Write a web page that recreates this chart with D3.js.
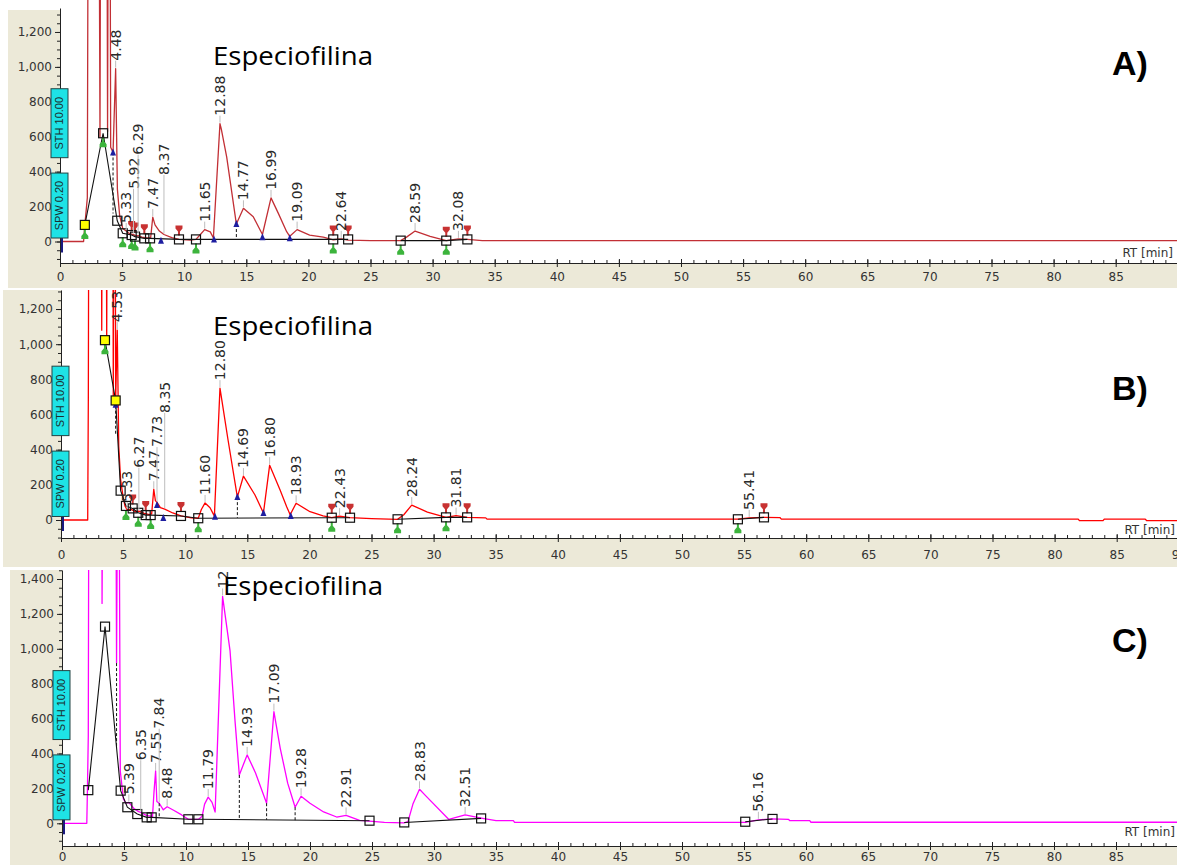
<!DOCTYPE html>
<html>
<head>
<meta charset="utf-8">
<script src="https://cdn.jsdelivr.net/npm/d3@7"></script>
<style>
  html, body { margin: 0; padding: 0; background: #fff; }
  svg { display: block; }
</style>
</head>
<body>
<svg id="chart" width="1177" height="865"></svg>
<script>
// ---------- Chromatogram A ----------
const traceA = [[0,0],[1.9,0],[2.0,95],[2.2,250],[2.3,3000],[3.1,3000],[3.22,600],[3.3,3000],[3.75,3000],[3.83,630],[3.92,3000],[4.0,3000],[4.08,540],[4.27,510],[4.48,990],[4.62,300],[4.8,150],[5.05,75],[5.33,60],[5.6,45],[5.92,40],[6.1,32],[6.29,34],[6.6,25],[7.0,20],[7.3,22],[7.47,140],[7.65,95],[8.0,60],[8.37,40],[9.0,22],[9.58,12],[10.5,8],[10.95,12],[11.3,40],[11.65,68],[12.1,55],[12.35,20],[12.88,675],[13.0,640],[13.42,485],[14.2,100],[14.77,190],[15.56,142],[16.3,40],[16.99,250],[17.58,161],[18.25,56],[18.5,30],[19.09,68],[20.1,37],[21.2,25],[22.0,10],[22.64,15],[23.2,8],[25.0,5],[27.43,5],[27.9,25],[28.59,60],[29.8,30],[31.1,5],[32.08,15],[32.8,12],[34.0,5],[90,5]];
const peaksA = [[4.48,990],[5.33,60],[5.92,40],[6.29,34],[7.47,140],[8.37,40],[11.65,68],[12.88,675],[14.77,190],[16.99,250],[19.09,68],[22.64,15],[28.59,60],[32.08,15]];
const baselineA = [
  [[2.0,95],[3.47,620],[4.61,119],[5.05,47],[5.77,37],[6.04,28],[6.79,18],[7.25,18],[9.58,12],[10.95,12],[22.0,12],[23.2,12]],
  [[27.43,5],[31.1,5],[32.8,12]]
];
const manualA = [2.0];
const dropsA = [[4.27,510,160],[14.2,100,12]];
const startsA = [[2.0,95],[3.47,620],[5.05,47],[5.77,37],[6.04,28],[7.25,18],[10.95,12],[22.0,12],[27.43,5],[31.1,5]];
const endsA = [[5.77,37],[6.04,28],[6.79,18],[9.58,12],[22.0,12],[23.2,12],[31.1,5],[32.8,12]];
const valleysA = [[4.27,510],[8.13,5],[12.4,12],[14.2,100],[16.3,24],[18.5,18]];

// ---------- Chromatogram B ----------
const traceB = [[0,0],[2.15,0],[2.2,680],[2.27,3000],[3.2,3000],[3.28,1080],[3.36,3000],[3.6,3000],[3.68,1020],[3.76,3000],[4.15,3000],[4.21,700],[4.3,3000],[4.34,3000],[4.4,680],[4.53,1080],[4.65,420],[4.8,230],[5.0,130],[5.15,80],[5.33,57],[5.6,62],[6.0,48],[6.27,50],[6.7,38],[7.1,30],[7.3,35],[7.47,175],[7.6,110],[7.73,100],[8.0,70],[8.35,62],[9.0,40],[9.66,23],[10.5,12],[11.05,10],[11.3,60],[11.6,97],[12.0,70],[12.35,22],[12.8,750],[13.45,455],[14.2,130],[14.69,250],[15.62,142],[16.3,40],[16.8,312],[17.64,170],[18.17,76],[18.45,30],[18.93,95],[20.05,47],[21.1,23],[21.8,13],[22.43,22],[23.27,13],[25.0,8],[27.1,4],[27.6,30],[28.24,85],[29.5,45],[31.0,15],[31.81,25],[32.7,15],[34.2,12],[34.3,5],[54.5,5],[55.41,12],[56.6,15],[57.9,13],[58.0,5],[81.9,5],[82.0,-4],[83.9,-4],[84.0,5],[87.3,5],[87.4,-3],[90,-3]];
const peaksB = [[4.53,1080],[5.33,57],[6.27,50],[7.47,175],[7.73,100],[8.35,62],[11.60,97],[12.80,750],[14.69,250],[16.80,312],[18.93,95],[22.43,22],[28.24,85],[31.81,25],[55.41,12]];
const baselineB = [
  [[3.54,1023],[4.4,680],[4.8,167],[5.23,80],[5.77,66],[6.22,41],[6.82,28],[7.22,28],[9.66,23],[11.05,10],[21.8,13],[23.27,13]],
  [[27.1,4],[31.0,15],[32.7,15]],
  [[54.5,4],[56.6,15]]
];
const manualB = [3.54, 4.4];
const dropsB = [[4.4,650,490],[14.2,130,12]];
const startsB = [[3.54,1023],[5.23,80],[6.22,41],[7.22,28],[11.05,10],[21.8,13],[27.1,4],[31.0,15],[54.5,4]];
const endsB = [[5.77,66],[6.82,28],[9.66,23],[21.8,13],[23.27,13],[31.0,15],[32.7,15],[56.6,15]];
const valleysB = [[4.4,655],[7.73,85],[8.24,11],[12.4,19],[14.2,131],[16.3,40],[18.5,23]];

// ---------- Chromatogram C ----------
const traceC = [[0,0],[2.0,0],[2.05,190],[2.12,500],[2.25,5000],[3.18,5000],[3.23,1260],[3.5,5000],[4.2,5000],[4.4,918],[4.55,3000],[4.7,300],[4.95,140],[5.15,115],[5.39,120],[5.8,85],[6.1,70],[6.35,62],[6.8,45],[7.3,40],[7.42,180],[7.55,300],[7.65,125],[7.84,115],[8.17,77],[8.48,95],[9.0,75],[9.65,48],[10.19,23],[11.0,22],[11.3,40],[11.5,110],[11.79,150],[12.1,120],[12.35,65],[12.95,1300],[13.55,990],[13.95,590],[14.3,277],[14.93,392],[15.6,290],[16.5,115],[17.09,640],[17.6,430],[18.2,230],[18.8,92],[19.28,155],[20.0,115],[21.1,65],[22.15,36],[22.91,45],[24.0,17],[24.8,12],[26.0,5],[27.6,3],[27.9,10],[28.3,110],[28.83,195],[29.3,160],[31.2,22],[32.51,48],[33.8,30],[35.0,15],[36.4,15],[36.5,5],[55.1,5],[56.16,20],[57.3,25],[58.6,22],[58.7,15],[60.3,15],[60.4,6],[90,6]];
const peaksC = [[5.39,120],[6.35,62],[7.55,300],[7.84,115],[8.48,95],[11.79,150],[12.95,1300],[14.93,392],[17.09,640],[19.28,155],[22.91,45],[28.83,195],[32.51,48],[56.16,20]];
const baselineC = [
  [[2.12,190],[3.47,1127],[4.73,187],[5.27,92],[6.07,53],[6.83,34],[7.23,34],[10.19,23],[11.0,23],[24.8,15]],
  [[27.6,5],[33.8,28]],
  [[55.1,9],[57.3,25]]
];
const manualC = [];
const dropsC = [[4.4,918,433],[7.84,115,30],[14.3,277,22],[16.5,115,20],[18.8,92,18]];
const startsC = [];
const endsC = [];
const valleysC = [];

// ---------- Axis ticks ----------
const xTicksA = [0,5,10,15,20,25,30,35,40,45,50,55,60,65,70,75,80,85];
const xTicksB = [0,5,10,15,20,25,30,35,40,45,50,55,60,65,70,75,80,85,90];
const xTicksC = [0,5,10,15,20,25,30,35,40,45,50,55,60,65,70,75,80,85];
const yTicksAB = [0,200,400,600,800,1000,1200];
const yTicksC = [0,200,400,600,800,1000,1200,1400];

const compoundName = "Especiofilina";
const axisTitle = "RT [min]";
const boxSTH = "STH 10.00";
const boxSPW = "SPW 0.20";

// ---------- Panel layout ----------
const panels = [
  { key: "A", label: "A)", color: "#c22f35",
    trace: traceA, peaks: peaksA, baseline: baselineA, manual: manualA, drops: dropsA,
    starts: startsA, ends: endsA, valleys: valleysA, xTicks: xTicksA, yTicks: yTicksAB,
    frame: [8, 10, 1177, 288], plot: [61, 8, 1177, 263], clipTop: 0,
    x0: 60, pxPerMin: 12.42, y0: 241.5, k: 0.1746, xPad: 5,
    titleX: 213, titleY: 65, letterY: 75, rtX: 1173, rtY: 257 },
  { key: "B", label: "B)", color: "#ff0000",
    trace: traceB, peaks: peaksB, baseline: baselineB, manual: manualB, drops: dropsB,
    starts: startsB, ends: endsB, valleys: valleysB, xTicks: xTicksB, yTicks: yTicksAB,
    frame: [3, 290, 1177, 567], plot: [62, 290, 1177, 538], clipTop: 290,
    x0: 61, pxPerMin: 12.42, y0: 520, k: 0.1758, xPad: 8,
    titleX: 213, titleY: 335, letterY: 400, rtX: 1175, rtY: 534 },
  { key: "C", label: "C)", color: "#ff00ff",
    trace: traceC, peaks: peaksC, baseline: baselineC, manual: manualC, drops: dropsC,
    starts: startsC, ends: endsC, valleys: valleysC, xTicks: xTicksC, yTicks: yTicksC,
    frame: [10, 570, 1177, 865], plot: [63, 570, 1177, 846], clipTop: 570,
    x0: 62, pxPerMin: 12.4, y0: 823.3, k: 0.1745, xPad: 2,
    titleX: 223, titleY: 595, letterY: 652, rtX: 1175, rtY: 836 }
];

const svg = d3.select("#chart");
const defs = svg.append("defs");
const tickFont = "DejaVu Sans, Verdana, sans-serif";

panels.forEach(p => {
  const [pl, pt, pr, pb] = p.plot;
  const x = d3.scaleLinear().domain([0, 90]).range([p.x0, p.x0 + 90 * p.pxPerMin]);
  const y = d3.scaleLinear()
    .domain([(p.y0 - pb) / p.k, (p.y0 - pt) / p.k])
    .range([pb, pt]);
  const [vMin, vMax] = y.domain();

  const g = svg.append("g").attr("class", "panel-" + p.key);

  // window background and plotting area
  const [fx, fy, fx2, fy2] = p.frame;
  g.append("rect").attr("x", fx).attr("y", fy).attr("width", fx2 - fx).attr("height", fy2 - fy)
    .attr("fill", "#ece9d8");
  g.append("rect").attr("x", pl).attr("y", p.clipTop).attr("width", pr - pl).attr("height", pb - p.clipTop)
    .attr("fill", "#ffffff");

  const clipId = "clip-" + p.key;
  defs.append("clipPath").attr("id", clipId).append("rect")
    .attr("x", x(0) - 2).attr("y", p.clipTop).attr("width", 1177 - x(0) + 2).attr("height", pb - p.clipTop);

  const gc = g.append("g").attr("clip-path", `url(#${clipId})`);

  // detector trace
  const line = d3.line().x(d => x(d[0])).y(d => y(d[1]));
  gc.append("path").datum(p.trace).attr("d", line)
    .attr("fill", "none").attr("stroke", p.color).attr("stroke-width", 1.3).attr("stroke-linejoin", "round");

  // integration baselines
  p.baseline.forEach(seg => {
    gc.append("path").datum(seg).attr("d", line)
      .attr("fill", "none").attr("stroke", "#111").attr("stroke-width", 1.1);
  });

  // perpendicular drops
  gc.selectAll(".drop").data(p.drops).enter().append("line")
    .attr("x1", d => x(d[0])).attr("x2", d => x(d[0]))
    .attr("y1", d => y(d[1])).attr("y2", d => y(d[2]))
    .attr("stroke", "#111").attr("stroke-width", 1).attr("stroke-dasharray", "3,2");

  // zero marker
  gc.append("rect").attr("x", x(0)).attr("y", y(0) - 8).attr("width", 3).attr("height", 19)
    .attr("fill", "#1a1a80");

  // peak start / end / valley markers
  gc.selectAll(".start").data(p.starts).enter().append("path")
    .attr("d", d => {
      const xp = x(d[0]), yp = y(d[1]);
      return `M${xp - 3.5},${yp + 14}H${xp + 3.5}V${yp + 11}L${xp + 1},${yp + 8}V${yp + 4}H${xp - 1}V${yp + 8}L${xp - 3.5},${yp + 11}Z`;
    })
    .attr("fill", "#3cb43c");
  gc.selectAll(".end").data(p.ends).enter().append("path")
    .attr("d", d => {
      const xp = x(d[0]), yp = y(d[1]);
      return `M${xp - 3.5},${yp - 14}H${xp + 3.5}V${yp - 11}L${xp + 1},${yp - 8}V${yp - 4}H${xp - 1}V${yp - 8}L${xp - 3.5},${yp - 11}Z`;
    })
    .attr("fill", "#c83232");
  gc.selectAll(".valley").data(p.valleys).enter().append("path")
    .attr("d", d => {
      const xp = x(d[0]), yp = y(d[1]);
      return `M${xp - 3},${yp + 3}L${xp + 3},${yp + 3}L${xp},${yp - 4}Z`;
    })
    .attr("fill", "#1e1ea0");

  // baseline anchor squares
  const verts = p.baseline.flat();
  gc.selectAll(".anchor").data(verts).enter().append("rect")
    .attr("x", d => x(d[0]) - 4.5).attr("y", d => y(d[1]) - 4.5)
    .attr("width", 9).attr("height", 9)
    .attr("fill", d => p.manual.includes(d[0]) ? "#ffff00" : "none")
    .attr("stroke", "#111").attr("stroke-width", 1.2);

  // peak retention-time labels with leaders, stacked to avoid overlap
  const placed = [];
  p.peaks.slice().sort((a, b) => a[0] - b[0]).forEach(([rt, h]) => {
    const xp = x(rt), apexY = y(h);
    const lead = gc.append("line").attr("stroke", "#bdbdbd").attr("stroke-width", 1);
    const t = gc.append("text").text(rt.toFixed(2))
      .attr("font-family", tickFont).attr("font-size", 14).attr("fill", "#2a2a2a")
      .attr("dy", "0.36em");
    const len = t.node().getComputedTextLength();
    let bottom = apexY - 8;
    let moved = true;
    while (moved) {
      moved = false;
      for (const q of placed) {
        if (Math.abs(q.x - xp) < 13 && bottom > q.top - 3 && bottom - len < q.bottom + 3) {
          bottom = q.top - 3;
          moved = true;
        }
      }
    }
    placed.push({ x: xp, top: bottom - len, bottom });
    t.attr("transform", `translate(${xp},${bottom}) rotate(-90)`);
    lead.attr("x1", xp).attr("x2", xp).attr("y1", apexY - 1).attr("y2", bottom);
  });

  // x axis: minor ticks up, major ticks across, labels below
  const gxMinor = g.append("g").attr("transform", `translate(0,${pb})`)
    .call(d3.axisTop(x).tickValues(d3.range(0, 91, 1)).tickSize(3).tickSizeOuter(0).tickFormat(""));
  const gxMajorUp = g.append("g").attr("transform", `translate(0,${pb})`)
    .call(d3.axisTop(x).tickValues(p.xTicks).tickSize(4).tickSizeOuter(0).tickFormat(""));
  const gx = g.append("g").attr("transform", `translate(0,${pb})`)
    .call(d3.axisBottom(x).tickValues(p.xTicks).tickSize(4).tickSizeOuter(0).tickPadding(p.xPad).tickFormat(d3.format("d")));
  [gxMinor, gxMajorUp].forEach(a => a.select(".domain").remove());

  // y axis
  const gyMinor = g.append("g").attr("transform", `translate(${x(0)},0)`)
    .call(d3.axisLeft(y).tickValues(d3.range(-100, vMax, 50)).tickSize(3).tickSizeOuter(0).tickFormat(""));
  gyMinor.select(".domain").remove();
  const gy = g.append("g").attr("transform", `translate(${x(0)},0)`)
    .call(d3.axisLeft(y).tickValues(p.yTicks).tickSize(5).tickSizeOuter(0).tickPadding(3).tickFormat(d3.format(",")));

  g.selectAll(".domain, .tick line").attr("stroke", "#222").attr("stroke-width", 1);
  g.selectAll(".tick text").attr("font-family", tickFont).attr("font-size", 12).attr("fill", "#333");

  // threshold boxes on the y axis
  const boxes = [[boxSTH, 480, 875], [boxSPW, 20, 392]];
  boxes.forEach(([txt, lo, hi]) => {
    const bx = x(0) - 9, by = y(hi), bh = y(lo) - y(hi);
    g.append("rect").attr("x", bx).attr("y", by).attr("width", 17).attr("height", bh)
      .attr("fill", "#1ee3e6").attr("stroke", "#244").attr("stroke-width", 1);
    g.append("text").text(txt)
      .attr("transform", `translate(${bx + 8.5},${by + bh / 2}) rotate(-90)`)
      .attr("text-anchor", "middle").attr("dy", "0.36em")
      .attr("font-family", "Liberation Sans, Arial, sans-serif").attr("font-size", 11).attr("fill", "#1c2e2e");
  });

  // axis caption
  g.append("text").text(axisTitle).attr("x", p.rtX).attr("y", p.rtY)
    .attr("text-anchor", "end").attr("font-family", tickFont).attr("font-size", 12).attr("fill", "#333");

  // compound annotation and panel letter
  g.append("text").text(compoundName).attr("x", p.titleX).attr("y", p.titleY)
    .attr("font-family", "Open Sans, Lato, sans-serif").attr("font-size", 25).attr("fill", "#000")
    .attr("textLength", 160).attr("lengthAdjust", "spacingAndGlyphs");
  g.append("text").text(p.label).attr("x", 1112).attr("y", p.letterY)
    .attr("font-family", "Liberation Sans, Arial, sans-serif").attr("font-weight", "bold")
    .attr("font-size", 34).attr("fill", "#000");
});
</script>
</body>
</html>
